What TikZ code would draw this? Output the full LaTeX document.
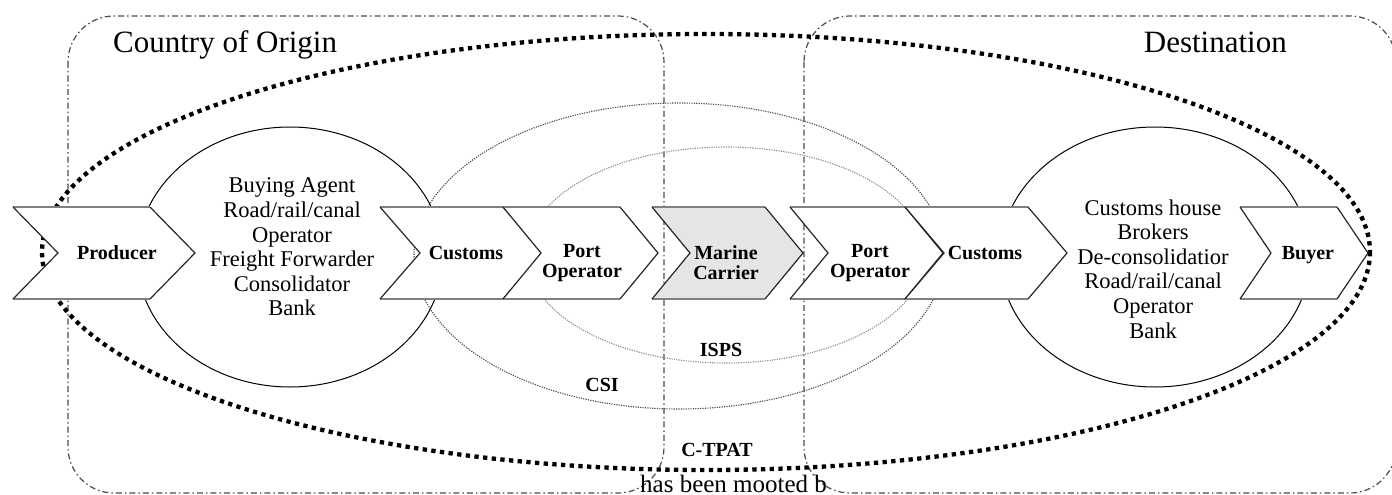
\documentclass[tikz,border=0pt]{standalone}
\usepackage{fontspec}
\setmainfont{Liberation Serif}[BoldFont={Liberation Serif Bold},ItalicFont={Liberation Serif Italic}]
\newcommand{\mychev}[4]{%
  \fill[#4] (#1,207) -- (#2,207) -- ({#2+#3},253) -- (#2,299) -- (#1,299) -- ({#1+#3},253) -- cycle;
  \draw[chevh] (#1,207) -- (#2,207) (#1,299) -- (#2,299);
  \draw[chevd] (#2,207) -- ({#2+#3},253) -- (#2,299) (#1,207) -- ({#1+#3},253) -- (#1,299);
}
\begin{document}
\begin{tikzpicture}[x=1pt,y=-1pt,
  boxline/.style={draw=black!70,line width=1.2pt,dash pattern=on 6pt off 3pt on 1.5pt off 3pt,rounded corners=46pt},
  bigdots/.style={draw=black,line width=4.3pt,dash pattern=on 4.3pt off 4.4pt},
  csiline/.style={draw=black!70,line width=1.1pt,dash pattern=on 1.2pt off 1.2pt},
  ispsline/.style={draw=black!45,line width=1.1pt,dash pattern=on 1.2pt off 1.2pt},
  solidell/.style={draw=black,line width=1pt},
  whitefill/.style={fill=white},
  greyfill/.style={fill=black!10},
  chevh/.style={draw=black!50,line width=2.2pt},
  chevd/.style={draw=black!85,line width=1.2pt},
  lab/.style={font=\fontsize{20}{20}\selectfont\bfseries,align=center,inner sep=0pt},
  list/.style={font=\fontsize{22.5}{24.6}\selectfont,align=center,inner sep=0pt},
  title/.style={font=\fontsize{31}{36}\selectfont,inner sep=0pt},
  note/.style={font=\fontsize{25}{28}\selectfont,inner sep=0pt},
]
\useasboundingbox (0,0) rectangle (1392,495);
\fill[white] (0,0) rectangle (1392,495);

% regions
\draw[boxline] (68,16) rectangle (664,493);
\draw[boxline] (804,16) rectangle (1396,493);

% ellipses
\draw[bigdots] (706,252) ellipse [x radius=664, y radius=218];
\draw[csiline] (679,256) ellipse [x radius=265, y radius=153];
\draw[ispsline] (726,255) ellipse [x radius=199, y radius=108];
\draw[solidell] (290,257) ellipse [x radius=153, y radius=130];
\draw[solidell] (1155,257) ellipse [x radius=155, y radius=130];

% chevrons
\mychev{13}{150}{45}{whitefill}
\mychev{380}{503}{40}{whitefill}
\mychev{503}{620}{38}{whitefill}
\mychev{652}{765}{38}{greyfill}
\mychev{790}{905}{38}{whitefill}
\mychev{905}{1028}{39}{whitefill}
\mychev{1240}{1337}{31}{whitefill}

% labels
\node[lab] (producer) at (117,253) {Producer};
\node[lab] (customsA) at (466,253) {Customs};
\node[lab] (portA) at (582,263) {Port\\Operator};
\node[lab] (marine) at (726,263) {Marine\\Carrier};
\node[lab] (portB) at (870,263) {Port\\Operator};
\node[lab] (customsB) at (985,253) {Customs};
\node[lab] (buyer) at (1308,255) {Buyer};

\node[list] (agents) at (292,247) {Buying Agent\\Road/rail/canal\\Operator\\Freight Forwarder\\Consolidator\\Bank};
\node[list] (brokers) at (1153,269) {Customs house\\Brokers\\De-consolidatior\\Road/rail/canal\\Operator\\Bank};

\node[lab] (isps) at (721,350) {ISPS};
\node[lab] (csi) at (602,385) {CSI};
\node[lab] (ctpat) at (717,450) {C-TPAT};

\node[title,anchor=base west] (origin) at (113,53) {Country of Origin};
\node[title,anchor=base east] (dest) at (1287,53) {Destination};

\node[note,anchor=base west] (mooted) at (640,492) {has been mooted b};
\end{tikzpicture}
\end{document}
